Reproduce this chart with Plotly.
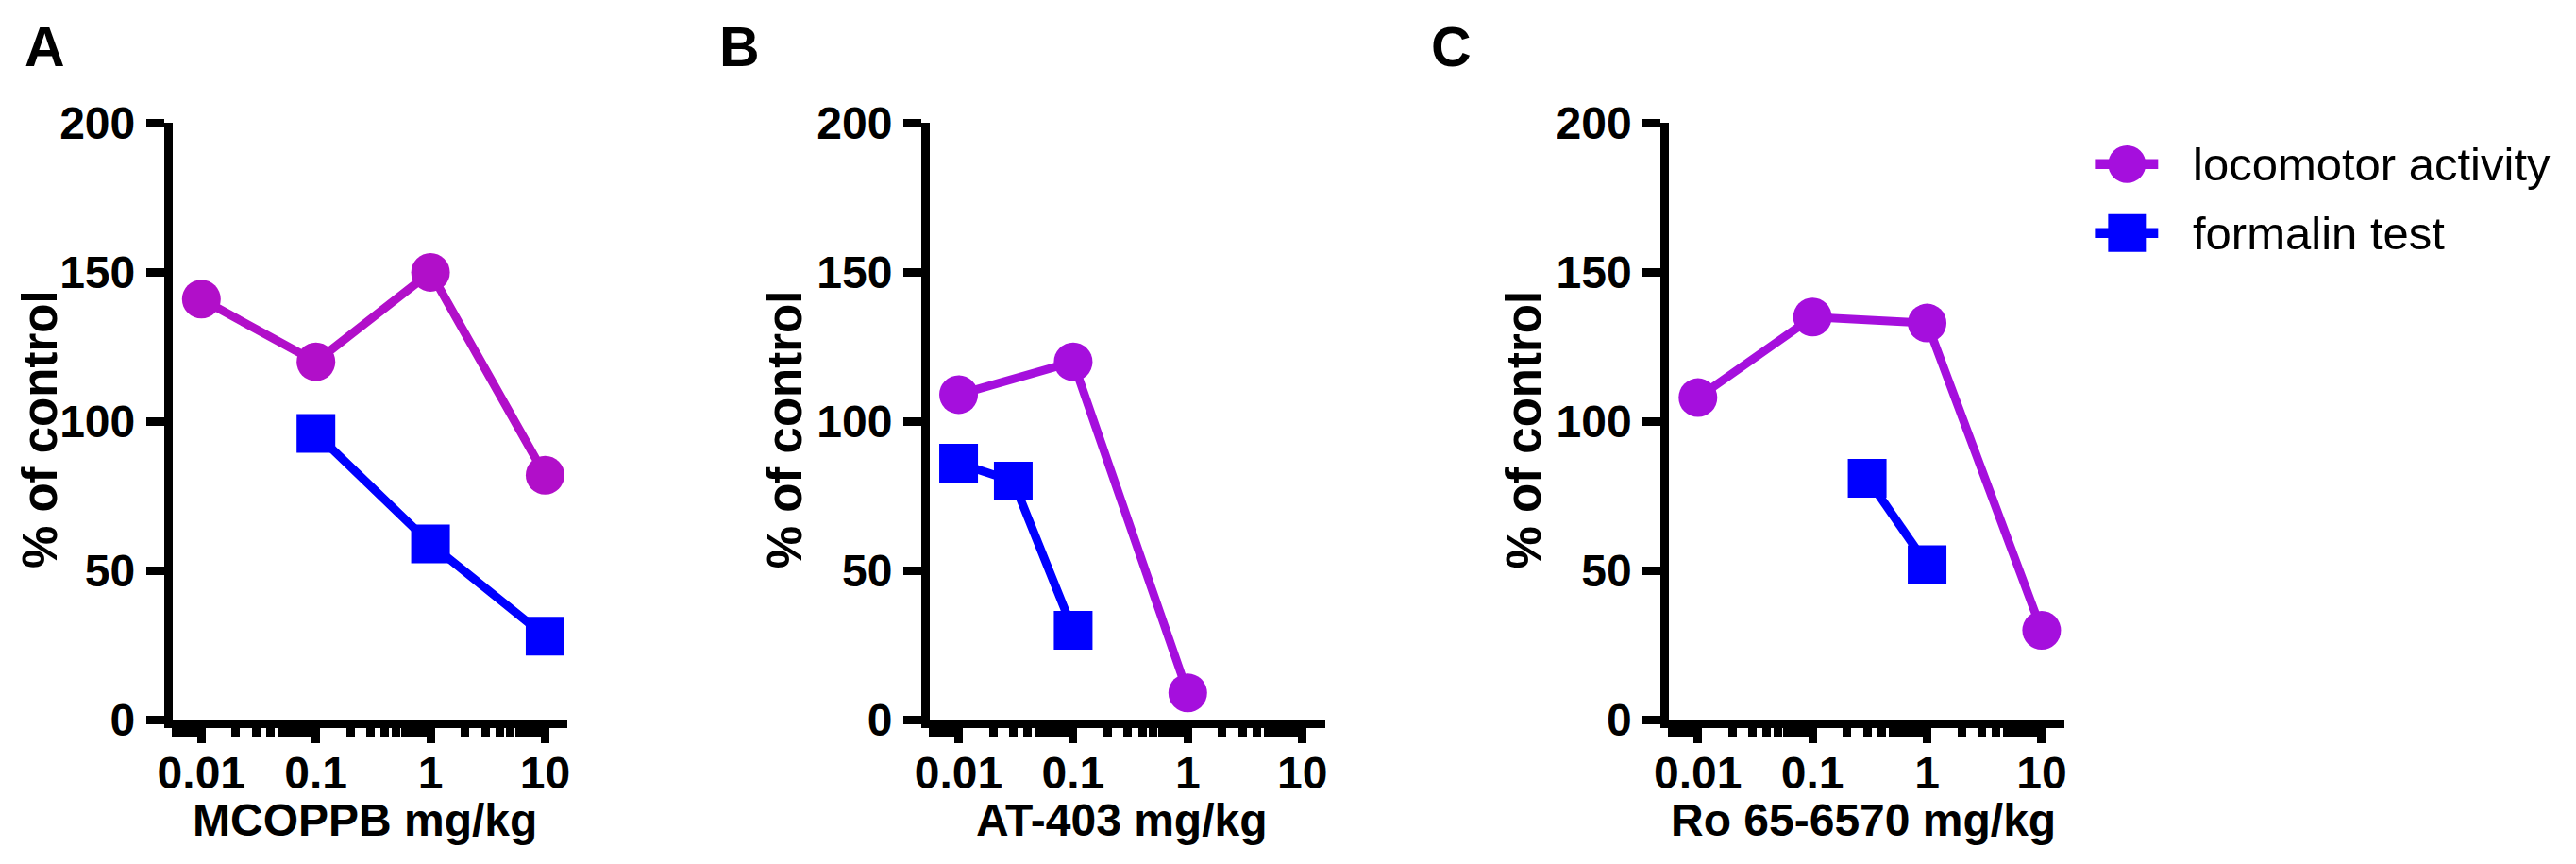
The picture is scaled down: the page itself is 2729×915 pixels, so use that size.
import numpy as np
import plotly.graph_objects as go

# canvas size in px
W, H = 2729, 915
# measured on the photographed page: screen = S0 + K * figure px
SX0, SXK = 20.5, 0.994
SY0, SYK = 31.0, 0.943

panel_labels = ["A", "B", "C"]
x_titles = ["MCOPPB mg/kg", "AT-403 mg/kg", "Ro 65-6570 mg/kg"]
y_title = "% of control"

# locomotor activity, % of control
loco_dose = [[0.01, 0.1, 1, 10], [0.01, 0.1, 1], [0.01, 0.1, 1, 10]]
loco_pct = [[141, 120, 150, 82], [109, 120, 9], [108, 135, 133, 30]]

# formalin test, % of control
form_dose = [[0.1, 1, 10], [0.01, 0.03, 0.1], [0.3, 1]]
form_pct = [[96, 59, 28], [86, 80, 30], [81, 52]]

x_tickvals = [0.01, 0.1, 1, 10]
x_ticktext = ["0.01", "0.1", "1", "10"]
y_tickvals = [0, 50, 100, 150, 200]
y_ticktext = ["0", "50", "100", "150", "200"]

series_names = ["locomotor activity", "formalin test"]

loco_colors = ["#B10FC9", "#A50FDD", "#A50FDD"]
blue = "#0000FF"
legend_colors = ["#A50FDD", blue]
legend_symbols = ["circle", "square"]

FONT = "Liberation Sans, Arial, sans-serif"


def fig_x(sx):
    return (sx - SX0) / SXK


def fig_y(sy):
    return (sy - SY0) / SYK


def px(sx):
    return fig_x(sx) / W


def py(sy):
    return 1 - fig_y(sy) / H


# axes geometry (screen px)
pos_001 = [210, 1013, 1797]          # where 0.01 sits in each panel
decade = 121.5 / SXK
lead = 30.7                          # 0.01 to left edge of plot area
plot_w = 421.5
x_lo = -2 - lead / decade
x_hi = x_lo + plot_w / decade
y_top, y_bot = 127.5, 760

minor_vals = [k * 10.0 ** e for e in range(-3, 2) for k in range(2, 10)]
minor_vals = [v for v in minor_vals if 10 ** x_lo < v < 10 ** x_hi]

fig = go.Figure()
annotations = []

for i in range(3):
    ax = "" if i == 0 else str(i + 1)
    fig.add_trace(go.Scatter(
        x=loco_dose[i], y=loco_pct[i], mode="lines+markers",
        xaxis="x" + ax, yaxis="y" + ax, name=series_names[0],
        line=dict(color=loco_colors[i], width=9),
        marker=dict(symbol="circle", size=41, color=loco_colors[i]),
        showlegend=False, cliponaxis=False,
    ))
    fig.add_trace(go.Scatter(
        x=form_dose[i], y=form_pct[i], mode="lines+markers",
        xaxis="x" + ax, yaxis="y" + ax, name=series_names[1],
        line=dict(color=blue, width=9),
        marker=dict(symbol="square", size=41, color=blue),
        showlegend=False, cliponaxis=False,
    ))

    left = fig_x(pos_001[i]) - lead
    axis_common = dict(
        showline=True, linewidth=9, linecolor="black",
        ticks="outside", tickwidth=9, tickcolor="black",
        showgrid=False, zeroline=False,
        tickfont=dict(family=FONT, size=48, color="black", weight="bold"),
    )
    fig.update_layout({
        "xaxis" + ax: dict(
            type="log", range=[x_lo, x_hi],
            domain=[left / W, (left + plot_w) / W],
            anchor="y" + ax,
            tickmode="array", tickvals=x_tickvals, ticktext=x_ticktext,
            ticklen=16, ticklabelstandoff=-10,
            minor=dict(tickmode="array", tickvals=minor_vals, ticks="outside",
                       ticklen=9, tickwidth=9, tickcolor="black", showgrid=False),
            **axis_common,
        ),
        "yaxis" + ax: dict(
            range=[0, 200], domain=[py(y_bot), py(y_top)],
            anchor="x" + ax,
            tickmode="array", tickvals=y_tickvals, ticktext=y_ticktext,
            ticklen=19, ticklabelstandoff=2,
            **axis_common,
        ),
    })

# axis titles
x_title_cx = [383, 1186, 1972]
y_title_cx = [39, 829, 1613]
for i in range(3):
    annotations.append(dict(
        text=x_titles[i], x=px(x_title_cx[i]), y=1 - 886 / H,
        xref="paper", yref="paper", xanchor="center", yanchor="middle",
        showarrow=False,
        font=dict(family=FONT, size=48, color="black", weight="bold"),
    ))
    annotations.append(dict(
        text=y_title, x=px(y_title_cx[i]), y=py(452), textangle=-90,
        xref="paper", yref="paper", xanchor="center", yanchor="middle",
        showarrow=False,
        font=dict(family=FONT, size=51, color="black", weight="bold"),
    ))

# panel letters
letter_x = [0, 741, 1500]
for lab, lx in zip(panel_labels, letter_x):
    annotations.append(dict(
        text=lab, x=lx / W, y=1 + 20 / H, xref="paper", yref="paper",
        xanchor="left", yanchor="top", showarrow=False,
        font=dict(family=FONT, size=59, color="black", weight="bold"),
    ))

# legend drawn as keys + labels
shapes = []
row_y = [171, 244]
for name, col, sym, yc in zip(series_names, legend_colors, legend_symbols, row_y):
    shapes.append(dict(type="line", xref="paper", yref="paper",
                       x0=px(2218), x1=px(2285), y0=py(yc), y1=py(yc),
                       line=dict(color=col, width=10.5)))
    shapes.append(dict(type="circle" if sym == "circle" else "rect",
                       xref="paper", yref="paper",
                       x0=px(2232), x1=px(2272), y0=py(yc + 20), y1=py(yc - 20),
                       fillcolor=col, line=dict(width=0)))
    annotations.append(dict(
        text=name, x=px(2320), y=py(yc), xref="paper", yref="paper",
        xanchor="left", yanchor="middle", showarrow=False,
        font=dict(family=FONT, size=49, color="black"),
    ))

fig.update_layout(
    width=W, height=H, autosize=False,
    margin=dict(l=0, r=0, t=0, b=0),
    paper_bgcolor="white", plot_bgcolor="white",
    annotations=annotations, shapes=shapes,
    showlegend=False,
)

fig.write_html("out.html")
